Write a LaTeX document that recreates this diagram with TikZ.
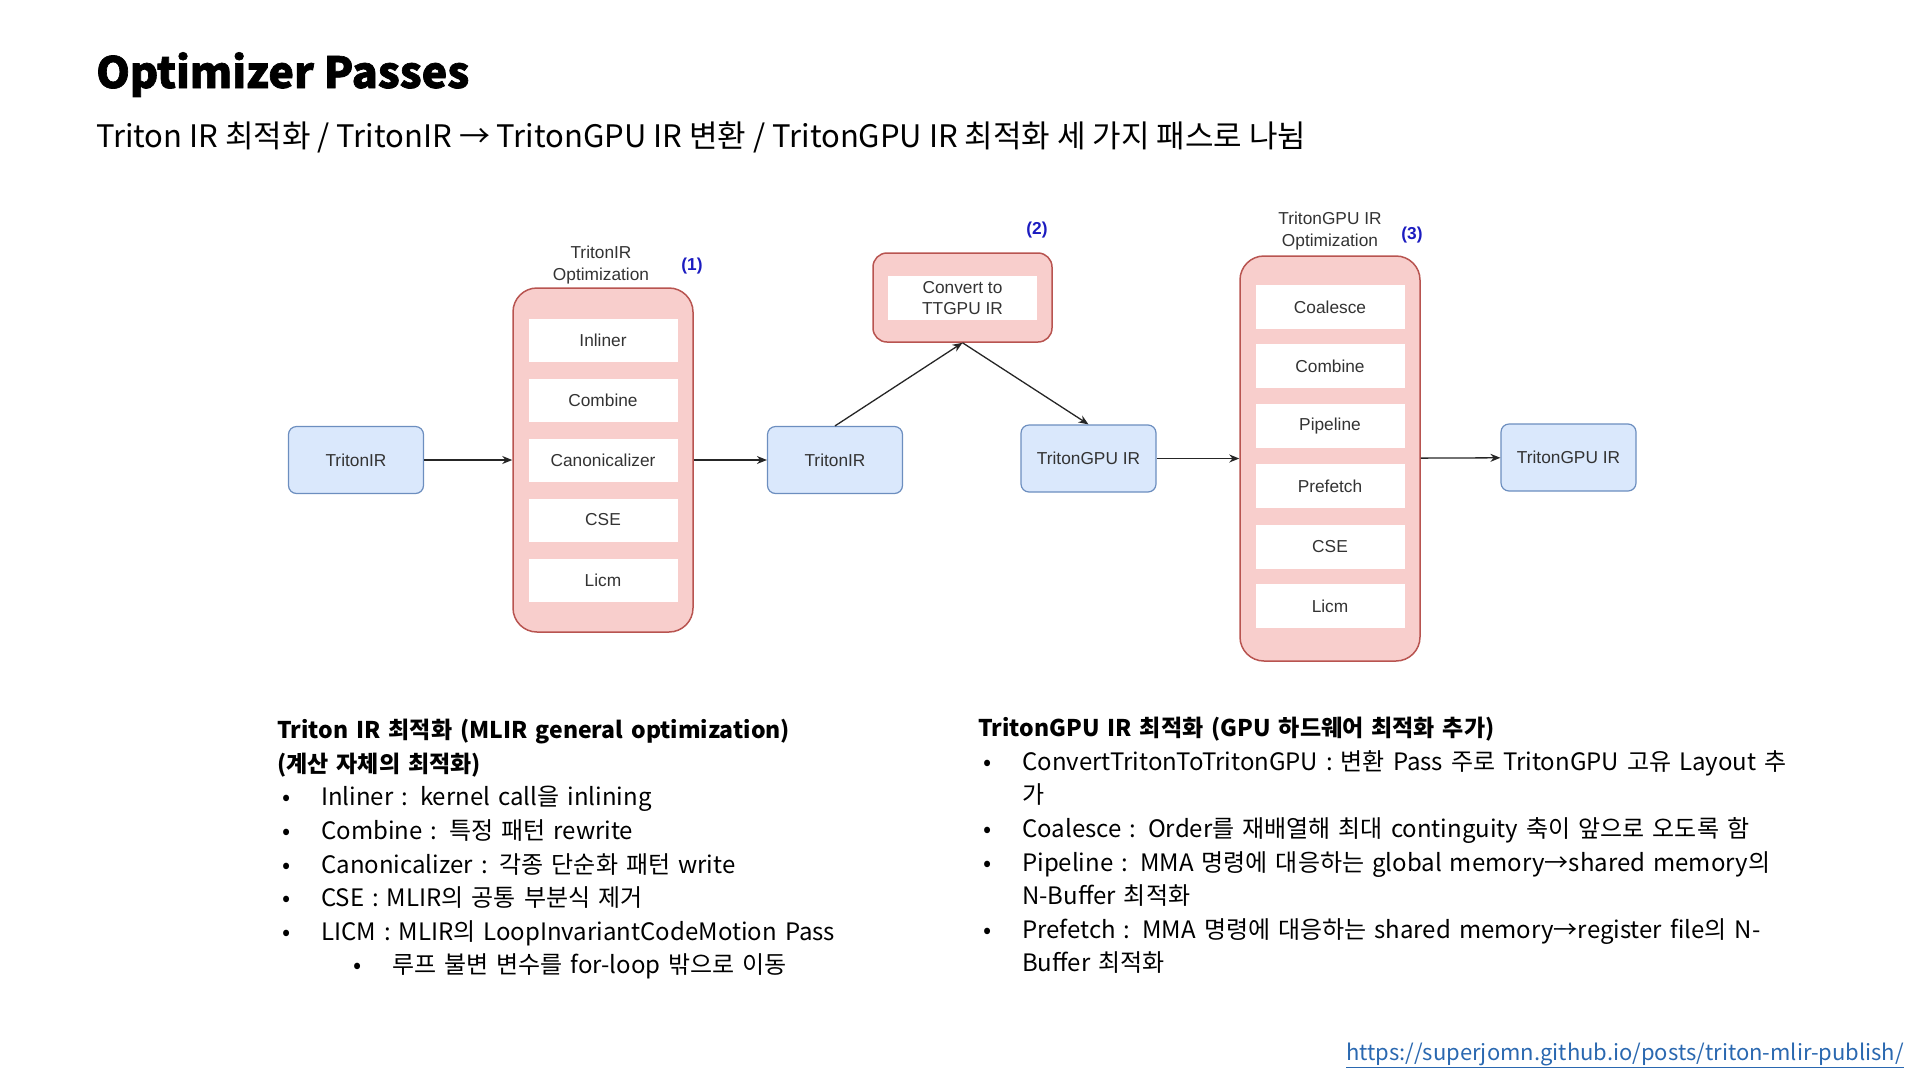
\documentclass[tikz,border=0pt]{standalone}
\usepackage{fontspec}
\setmainfont{Noto Sans CJK KR}
\newfontfamily\diagfont{Liberation Sans}
\usetikzlibrary{arrows.meta,positioning}
\definecolor{BoxBlue}{HTML}{DAE8FC}
\definecolor{EdgeBlue}{HTML}{6C8EBF}
\definecolor{BoxRed}{HTML}{F8CECC}
\definecolor{EdgeRed}{HTML}{B85450}
\definecolor{TagBlue}{HTML}{1C1CC0}
\definecolor{LinkBlue}{HTML}{2A68B0}
\definecolor{DiagText}{HTML}{333333}

\newcommand{\dfont}{\diagfont\fontsize{17.3}{21.5}\selectfont}
\newcommand{\bodyfont}{\fontsize{24}{33.6}\selectfont}
\newcommand{\headfont}{\bfseries\fontsize{23}{33.6}\selectfont}
\newcommand{\bul}{\makebox[39pt][l]{•}}
\newcommand{\bulletsetup}[1]{\leftmargin=#1\labelwidth=39pt\labelsep=0pt\itemsep=0pt\parsep=0pt\topsep=0pt\partopsep=0pt}

\begin{document}
\begin{tikzpicture}[x=1pt,y=-1pt,>={Stealth[length=10pt,width=8pt]},
  irbox/.style={draw=EdgeBlue,fill=BoxBlue,rounded corners=8pt,line width=1.2pt,
    minimum width=135pt,minimum height=67pt,font=\dfont,text=DiagText},
  optbox/.style={draw=EdgeRed,fill=BoxRed,rounded corners=24pt,line width=1.5pt,minimum width=180pt},
  pass/.style={fill=white,minimum width=149pt,minimum height=43pt,inner sep=0pt,font=\dfont,text=DiagText},
  caption/.style={align=center,font=\dfont,text=DiagText},
  tag/.style={text=TagBlue,font=\dfont\bfseries},
  flow/.style={->,line width=1.3pt,draw=black!85},
  bullets/.style={anchor=north west,inner sep=0pt,text width=#1,align=left,font=\bodyfont}]
  \useasboundingbox (0,0) rectangle (1920,1080);

  % heading
  \node[anchor=base west,inner sep=0pt,font=\bfseries\fontsize{43}{48}\selectfont\addfontfeatures{FakeBold=1.6}] (title) at (96,88) {Optimizer Passes};
  \node[anchor=base west,inner sep=0pt,font=\fontsize{31}{36}\selectfont] (subtitle) at (96,147)
    {Triton IR 최적화 / TritonIR → TritonGPU IR 변환 / TritonGPU IR 최적화 세 가지 패스로 나뉨};

  % pipeline
  \node[irbox] (src) at (356,460) {TritonIR};
  \node[optbox,minimum height=344pt] (opt1) at (603,460) {};
  \foreach \lbl/\y [count=\i] in {Inliner/340,Combine/400,Canonicalizer/460,CSE/520,Licm/580}
    \node[pass] (a\i) at (603,\y) {\lbl};
  \node[caption] (cap1) at (601,265) {TritonIR\\Optimization};
  \node[tag] (tag1) at (692,266) {(1)};

  \node[irbox] (mid) at (835,460) {TritonIR};
  \node[optbox,minimum width=179pt,minimum height=89pt,rounded corners=14pt] (conv) at (962.5,297.5) {};
  \node[pass,align=center,minimum height=44pt] (convtxt) at (962.5,298) {Convert to\\TTGPU IR};
  \node[tag] (tag2) at (1037,230) {(2)};

  \node[irbox] (gpu1) at (1088.5,458.5) {TritonGPU IR};
  \node[optbox,minimum height=405pt] (opt3) at (1330,458.5) {};
  \foreach \lbl/\y [count=\i] in {Coalesce/307,Combine/366,Pipeline/426,Prefetch/486,CSE/547,Licm/606}
    \node[pass,minimum height=44pt] (b\i) at (1330,\y) {\lbl};
  \node[caption] (cap3) at (1330,231) {TritonGPU IR\\Optimization};
  \node[tag] (tag3) at (1412,235) {(3)};

  \node[irbox] (dst) at (1568.5,457.5) {TritonGPU IR};

  \draw[flow] (src) -- (opt1);
  \draw[flow] (opt1) -- (mid);
  \draw[flow] (mid.north) -- (conv.south);
  \draw[flow] (conv.south) -- (gpu1.north);
  \draw[flow] (gpu1) -- (opt3);
  \draw[flow] (opt3) -- (dst);

  % notes
  \node[bullets=680pt] (leftnotes) at (277,719) {%
    {\headfont Triton IR 최적화 (MLIR general optimization)\\
    (계산 자체의 최적화)}
    \begin{list}{\bul}{\bulletsetup{44pt}}
      \item Inliner : kernel call을 inlining
      \item Combine : 특정 패턴 rewrite
      \item Canonicalizer : 각종 단순화 패턴 write
      \item CSE : MLIR의 공통 부분식 제거
      \item LICM : MLIR의 LoopInvariantCodeMotion Pass
      \begin{list}{\bul}{\bulletsetup{71pt}}
        \item 루프 불변 변수를 for-loop 밖으로 이동
      \end{list}
    \end{list}};
  \node[bullets=880pt] (rightnotes) at (978,717) {%
    {\headfont TritonGPU IR 최적화 (GPU 하드웨어 최적화 추가)}
    \begin{list}{\bul}{\bulletsetup{44pt}}
      \item ConvertTritonToTritonGPU : 변환 Pass 주로 TritonGPU 고유 Layout 추\\가
      \item Coalesce : Order를 재배열해 최대 continguity 축이 앞으로 오도록 함
      \item Pipeline : MMA 명령에 대응하는 global memory→shared memory의\\N-Buffer 최적화
      \item Prefetch : MMA 명령에 대응하는 shared memory→register file의 N-\\Buffer 최적화
    \end{list}};

  \node[anchor=base east,inner sep=0pt,text=LinkBlue,font=\fontsize{22}{24}\selectfont] (url) at (1904,1060)
    {\underline{https://superjomn.github.io/posts/triton-mlir-publish/}};
\end{tikzpicture}
\end{document}
